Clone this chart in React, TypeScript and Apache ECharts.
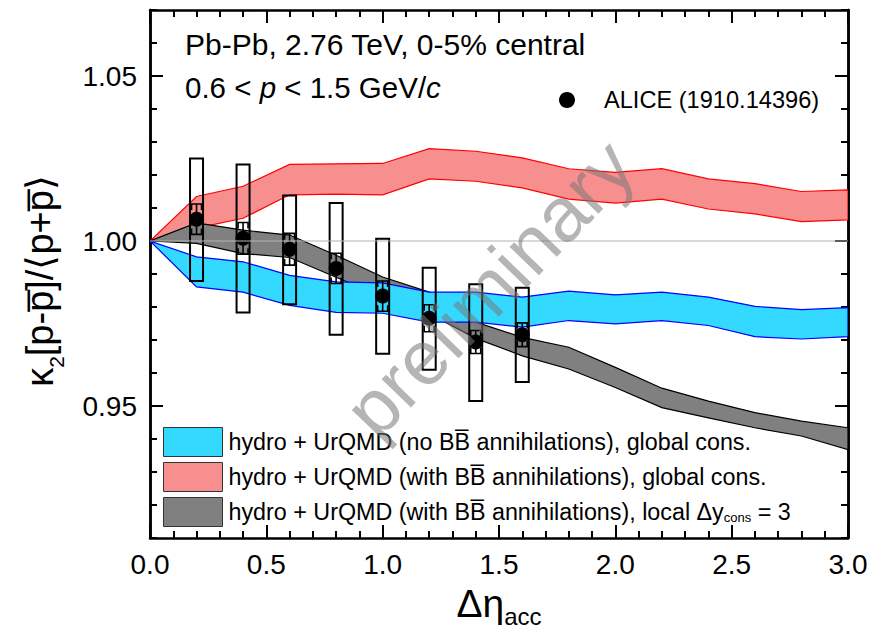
import { useEffect, useRef } from 'react';
import * as echarts from 'echarts';

// ---- Model bands (x grid and upper/lower edges) ----
const bandX = [0, 0.2, 0.4, 0.6, 0.8, 1.0, 1.2, 1.4, 1.6, 1.8, 2.0, 2.2, 2.4, 2.6, 2.8, 3.0];
const blueHi = [1.0, 0.9952, 0.9937, 0.9896, 0.9876, 0.9873, 0.9845, 0.9845, 0.983, 0.9848, 0.9837, 0.9845, 0.983, 0.9802, 0.9792, 0.9798];
const blueLo = [1.0, 0.9861, 0.9845, 0.9805, 0.9784, 0.9781, 0.9754, 0.9754, 0.9739, 0.9759, 0.9749, 0.9759, 0.9744, 0.971, 0.9703, 0.971];
const redHi = [1.0, 1.0135, 1.0166, 1.0232, 1.0234, 1.0235, 1.028, 1.0272, 1.0252, 1.0219, 1.0208, 1.0219, 1.0188, 1.0174, 1.015, 1.0155];
const redLo = [1.0, 1.0039, 1.0069, 1.014, 1.0142, 1.014, 1.0188, 1.0181, 1.0161, 1.0127, 1.0115, 1.0127, 1.0097, 1.0082, 1.0059, 1.0064];
const grayHi = [1.0, 1.0055, 1.0033, 1.0018, 0.9957, 0.9891, 0.9845, 0.9754, 0.9708, 0.9678, 0.9617, 0.9554, 0.9515, 0.948, 0.9454, 0.9434];
const grayLo = [1.0, 0.9993, 0.9962, 0.995, 0.989, 0.983, 0.978, 0.9705, 0.9652, 0.9612, 0.9556, 0.9495, 0.9464, 0.9434, 0.9409, 0.9368];

const bandNames = [
  'hydro + UrQMD (no BB\u0305 annihilations), global cons.',
  'hydro + UrQMD (with BB\u0305 annihilations), global cons.',
  'hydro + UrQMD (with BB\u0305 annihilations), local \u0394ycons = 3',
];
const bandLabels = [
  'hydro + UrQMD (no BB\u0305 annihilations), global cons.',
  'hydro + UrQMD (with BB\u0305 annihilations), global cons.',
  'hydro + UrQMD (with BB\u0305 annihilations), local \u0394y{sub|cons} = 3',
];

// ---- ALICE data ----
const dataName = 'ALICE (1910.14396)';
const dataX = [0.2, 0.4, 0.6, 0.8, 1.0, 1.2, 1.4, 1.6];
const dataY = [1.0066, 1.0008, 0.9975, 0.9917, 0.9833, 0.9766, 0.9694, 0.9716];
const statErr = [0.0046, 0.0048, 0.0048, 0.0046, 0.0046, 0.0041, 0.0035, 0.0036];
const sysLo = [0.9879, 0.9783, 0.9808, 0.9716, 0.9658, 0.961, 0.9515, 0.9573];
const sysHi = [1.025, 1.0232, 1.0138, 1.0115, 1.0007, 0.9919, 0.9869, 0.9858];

// ---- Axis ticks ----
const yMajorTicks = [0.95, 1.0, 1.05];
const refLineY = 1.0;

const FONT = 'Liberation Sans, Arial, Helvetica, sans-serif';

function bandSeries(name: string, hi: number[], lo: number[], fill: string, stroke: string) {
  return {
    type: 'custom',
    name,
    coordinateSystem: 'cartesian2d',
    clip: true,
    silent: true,
    itemStyle: { color: fill },
    data: [[bandX[0], hi[0]]],
    encode: { x: 0, y: 1 },
    renderItem: (_p: any, api: any) => {
      const pts: number[][] = [];
      for (let i = 0; i < bandX.length; i++) pts.push(api.coord([bandX[i], hi[i]]));
      for (let i = bandX.length - 1; i >= 0; i--) pts.push(api.coord([bandX[i], lo[i]]));
      return {
        type: 'polygon',
        shape: { points: pts },
        style: { fill, stroke, lineWidth: 1.2 },
      };
    },
  };
}

export default function App() {
  const ref = useRef<HTMLDivElement>(null);
  useEffect(() => {
    if (!ref.current) return;
    const chart = echarts.init(ref.current, undefined, { renderer: 'svg' });

    const axisLine = { show: true, lineStyle: { color: '#000', width: 2.5 } };
    const xBase = {
      type: 'value',
      min: 0,
      max: 3,
      interval: 0.5,
      axisLine,
      splitLine: { show: false },
      axisTick: { show: true, inside: true, length: 13, lineStyle: { color: '#000', width: 2 } },
      minorTick: { show: true, splitNumber: 5, length: 7, lineStyle: { color: '#000', width: 2 } },
    };
    const yMajor = {
      type: 'value',
      min: 0.91,
      max: 1.07,
      interval: 0.01,
      axisLine,
      splitLine: { show: false },
      axisTick: { show: true, inside: true, length: 13, customValues: yMajorTicks, lineStyle: { color: '#000', width: 2 } },
    };
    const yMinor = {
      type: 'value',
      min: 0.91,
      max: 1.07,
      interval: 0.01,
      axisLine,
      splitLine: { show: false },
      axisLabel: { show: false },
      axisTick: { show: true, inside: true, length: 7, lineStyle: { color: '#000', width: 2 } },
    };

    const option: any = {
      animation: false,
      textStyle: { fontFamily: FONT },
      grid: { left: 150, right: 31, top: 10, bottom: 95, containLabel: false },
      xAxis: [
        {
          ...xBase,
          position: 'bottom',
          axisLabel: { show: true, fontSize: 28, color: '#000', margin: 12, fontFamily: FONT, formatter: (v: number) => v.toFixed(1) },
        },
        { ...xBase, position: 'top', axisLabel: { show: false } },
      ],
      yAxis: [
        {
          ...yMajor,
          position: 'left',
          axisLabel: { show: true, customValues: yMajorTicks, fontSize: 28, color: '#000', margin: 13, fontFamily: FONT, formatter: (v: number) => v.toFixed(2) },
        },
        { ...yMinor, position: 'left', offset: 0 },
        { ...yMajor, position: 'right', offset: 0, axisLabel: { show: false } },
        { ...yMinor, position: 'right', offset: 0 },
      ],
      legend: [
        {
          data: bandNames.map((n, i) => ({
            name: n,
            itemStyle: { color: ['#33d9ff', '#f88f8f', '#808080'][i], borderColor: '#333', borderWidth: 1 },
          })),
          orient: 'vertical',
          left: 163,
          top: 427,
          padding: 0,
          itemWidth: 59,
          itemHeight: 29,
          itemGap: 5,
          icon: 'rect',
          selectedMode: false,
          formatter: (name: string) => bandLabels[bandNames.indexOf(name)],
          textStyle: {
            fontSize: 23.3,
            lineHeight: 26,
            color: '#000',
            fontFamily: FONT,
            padding: [0, 0, 0, 1],
            rich: {
              sub: { fontSize: 13, fontFamily: FONT, color: '#000', lineHeight: 26, padding: [10, 0, 0, 0] },
            },
          },
        },
        {
          data: [{ name: dataName, icon: 'circle', itemStyle: { color: '#000', opacity: 1 } }],
          left: 559,
          top: 88,
          padding: 0,
          itemWidth: 16,
          itemHeight: 16,
          selectedMode: false,
          textStyle: { fontSize: 23.6, color: '#000', fontFamily: FONT, padding: [0, 0, 0, 24] },
        },
      ],
      series: [
        {
          type: 'line',
          name: 'ref',
          silent: true,
          symbol: 'none',
          data: [[0, refLineY], [3, refLineY]],
          lineStyle: { color: '#b3b3b3', width: 1.2 },
        },
        bandSeries(bandNames[1], redHi, redLo, '#f88f8f', '#ff0000'),
        bandSeries(bandNames[2], grayHi, grayLo, '#808080', '#000000'),
        bandSeries(bandNames[0], blueHi, blueLo, '#33d9ff', '#0000ff'),
        {
          type: 'custom',
          name: 'sys',
          silent: true,
          data: dataX.map((x, i) => [x, sysLo[i], sysHi[i]]),
          encode: { x: 0, y: [1, 2] },
          renderItem: (_p: any, api: any) => {
            const x = api.value(0);
            const pLo = api.coord([x, api.value(1)]);
            const pHi = api.coord([x, api.value(2)]);
            return {
              type: 'rect',
              shape: { x: pLo[0] - 6.5, y: pHi[1], width: 13, height: pLo[1] - pHi[1] },
              style: { fill: 'none', stroke: '#000', lineWidth: 2 },
            };
          },
        },
        {
          type: 'custom',
          name: 'stat',
          silent: true,
          data: dataX.map((x, i) => [x, dataY[i], statErr[i]]),
          encode: { x: 0, y: 1 },
          renderItem: (_p: any, api: any) => {
            const x = api.value(0);
            const y = api.value(1);
            const e = api.value(2);
            const top = api.coord([x, y + e]);
            const bot = api.coord([x, y - e]);
            const cx = top[0];
            const hw = 5;
            const t = 6;
            const st = { stroke: '#000', fill: 'none', lineWidth: 1.6 };
            return {
              type: 'group',
              children: [
                { type: 'line', shape: { x1: cx, y1: top[1], x2: cx, y2: bot[1] }, style: st },
                { type: 'polyline', shape: { points: [[cx - hw, top[1] + t], [cx - hw, top[1]], [cx + hw, top[1]], [cx + hw, top[1] + t]] }, style: st },
                { type: 'polyline', shape: { points: [[cx - hw, bot[1] - t], [cx - hw, bot[1]], [cx + hw, bot[1]], [cx + hw, bot[1] - t]] }, style: st },
              ],
            };
          },
        },
        {
          type: 'scatter',
          name: dataName,
          symbol: 'circle',
          symbolSize: 15,
          itemStyle: { color: '#000', opacity: 1 },
          data: dataX.map((x, i) => [x, dataY[i]]),
        },
      ],
      graphic: [
        {
          type: 'text',
          left: 185,
          top: 29,
          style: { text: 'Pb-Pb, 2.76 TeV, 0-5% central', fontSize: 30, fontFamily: FONT, fill: '#000' },
        },
        {
          type: 'text',
          left: 185,
          top: 72,
          style: {
            text: '{n|0.6 < }{i|p}{n| < 1.5 GeV/}{i|c}',
            fontFamily: FONT,
            fill: '#000',
            rich: {
              n: { fontSize: 29.5, fontFamily: FONT },
              i: { fontSize: 29.5, fontFamily: FONT, fontStyle: 'italic' },
            },
          },
        },
        {
          type: 'text',
          x: 44,
          y: 281,
          rotation: Math.PI / 2,
          style: {
            text: '{m|\u03BA}{s|2}{m|[p-p\u0305]/\u27E8p+p\u0305\u27E9}',
            align: 'center',
            verticalAlign: 'middle',
            fill: '#000',
            rich: {
              m: { fontSize: 38, fontFamily: FONT, lineHeight: 46, verticalAlign: 'top' },
              s: { fontSize: 21, fontFamily: FONT, lineHeight: 16, verticalAlign: 'bottom' },
            },
          },
        },
        {
          type: 'text',
          x: 499,
          y: 606,
          style: {
            text: '{m|\u0394\u03B7}{s|acc}',
            align: 'center',
            verticalAlign: 'middle',
            fill: '#000',
            rich: {
              m: { fontSize: 39, fontFamily: FONT, lineHeight: 44, verticalAlign: 'top' },
              s: { fontSize: 24, fontFamily: FONT, lineHeight: 18, verticalAlign: 'bottom' },
            },
          },
        },
        {
          type: 'text',
          x: 489,
          y: 288,
          rotation: (46 * Math.PI) / 180,
          z: 100,
          style: {
            text: 'preliminary',
            align: 'center',
            verticalAlign: 'middle',
            fontSize: 77,
            fontFamily: FONT,
            fill: 'rgba(120,120,120,0.55)',
          },
        },
      ],
    };
    chart.setOption(option);
    return () => chart.dispose();
  }, []);
  return <div ref={ref} style={{ position: 'fixed', left: 0, top: 0, width: 879, height: 633, background: '#fff' }} />;
}
